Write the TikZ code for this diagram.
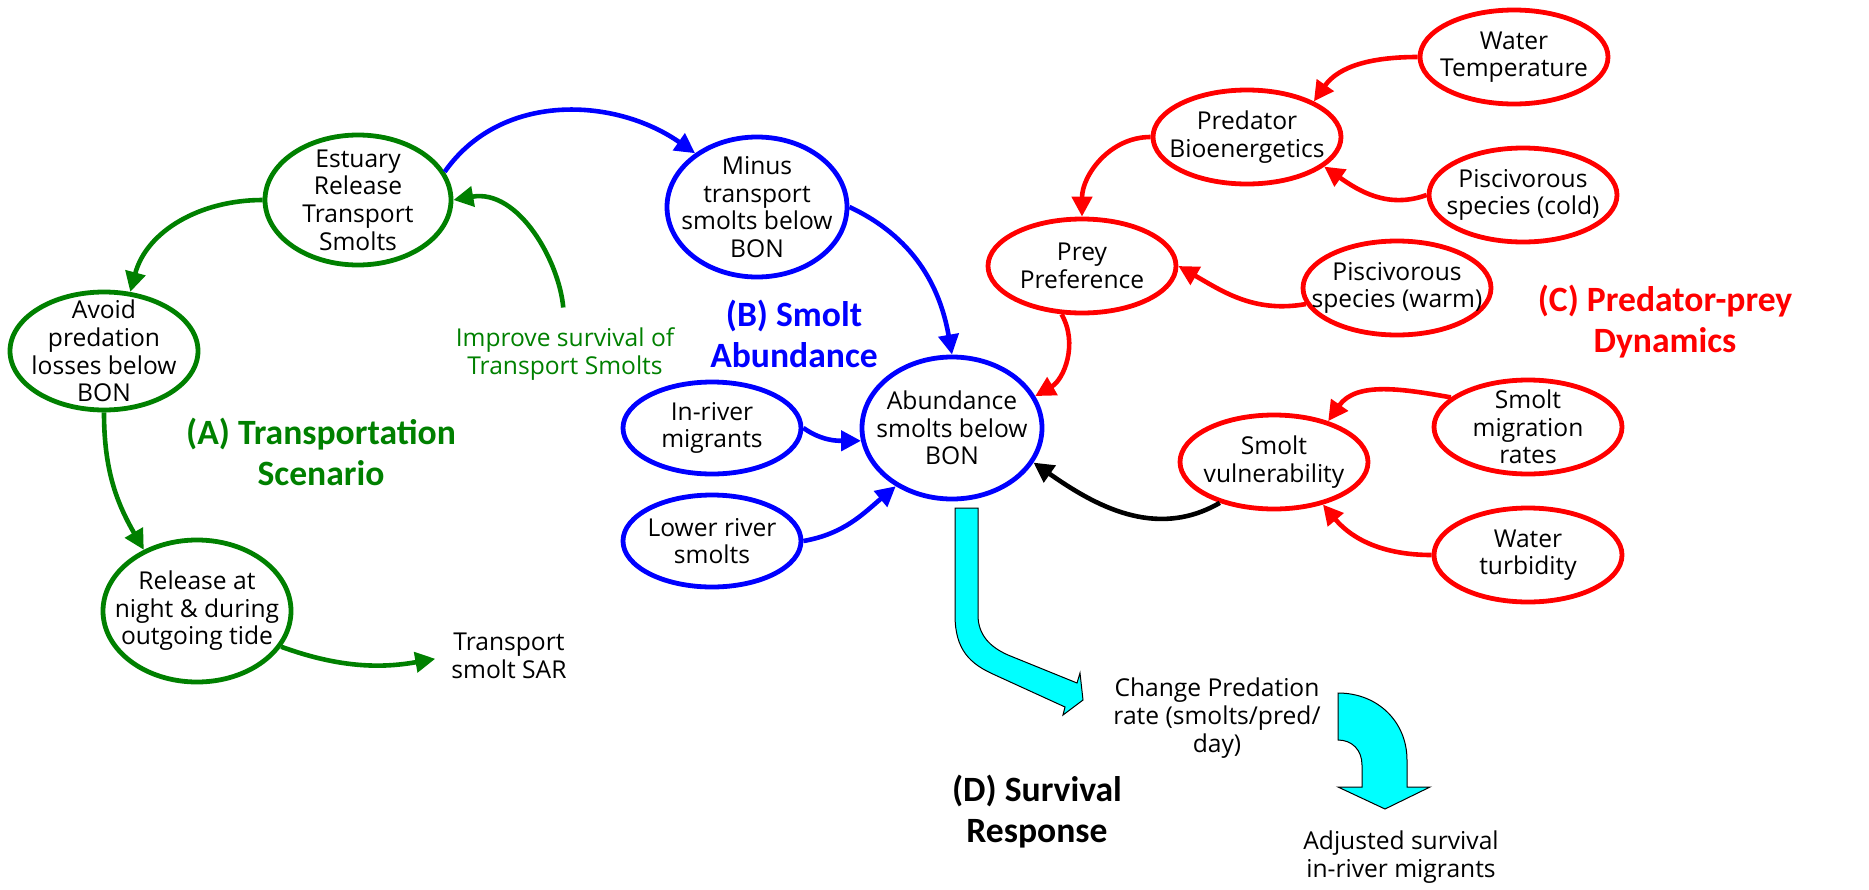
\documentclass[tikz,border=0pt]{standalone}
\usepackage{fontspec}
\setmainfont{Open Sans}
\newfontfamily\headfont{Carlito}
\usepackage{tikz}
\usetikzlibrary{positioning}
\usetikzlibrary{shapes.geometric}
\usetikzlibrary{arrows.meta}
\usepackage{xcolor}
\definecolor{tgreen}{RGB}{0,128,0}
\definecolor{aqua}{RGB}{0,255,255}
\newcommand{\nodefont}{\fontsize{12.3pt}{13.8pt}\selectfont}

\begin{document}
\begin{tikzpicture}[
	x=0.5pt, y=-0.5pt, on grid,
	gn/.style={ellipse, draw=tgreen, line width=2.4pt, inner sep=0pt},
	bn/.style={ellipse, draw=blue, line width=2.4pt, inner sep=0pt},
	rn/.style={ellipse, draw=red, line width=2.4pt, inner sep=0pt, minimum width=94pt, minimum height=47pt},
	tx/.style={align=center, font=\nodefont, inner sep=0pt},
	hd/.style={align=center, font=\headfont\bfseries\fontsize{17.8pt}{20.5pt}\selectfont, inner sep=0pt},
	arr/.style={-{Triangle[length=10pt, width=10pt]}, line width=2.3pt},
	every label/.style={tx},
	]
	\useasboundingbox (0,0) rectangle (1869,889);
	
	%Nodes
	\node[bn, minimum width=90pt, minimum height=71pt, label=center:{Abundance\\smolts below\\BON}] (abund) at (952,428) {};
	\node[bn, minimum width=90pt, minimum height=70pt, label=center:{Minus\\transport\\smolts below\\BON}] (minus) [above left=110.5pt and 97.5pt of abund] {};
	\node[bn, minimum width=89pt, minimum height=46pt, label=center:{In-river\\migrants}] (inriver) [left=120pt of abund] {};
	\node[bn, minimum width=89pt, minimum height=46pt, label=center:{Lower river\\smolts}] (lower) [below=56.5pt of inriver] {};
	\node[hd, text=blue] (labB) [above left=47pt and 79pt of abund] {(B) Smolt\\Abundance};
	
	\node[gn, minimum width=93pt, minimum height=65pt, label=center:{Estuary\\Release\\Transport\\Smolts}] (est) [above left=3.5pt and 199.5pt of minus] {};
	\node[gn, minimum width=94pt, minimum height=59pt, label=center:{Avoid\\predation\\losses below\\BON}] (avoid) [below left=75.5pt and 127pt of est] {};
	\node[gn, minimum width=94pt, minimum height=71pt, label=center:{Release at\\night \& during\\outgoing tide}] (rel) [below right=130pt and 46.5pt of avoid] {};
	\node[tx] (sar) [below right=22.5pt and 156pt of rel] {Transport\\smolt SAR};
	\node[tx, text=tgreen] (improve) [below right=77pt and 103.5pt of est] {Improve survival of\\Transport Smolts};
	\node[hd, text=tgreen] (labA) [below right=50.5pt and 108.5pt of avoid] {(A) Transportation\\Scenario};
	
	\node[rn, label=center:{Prey\\Preference}] (prey) [above right=81pt and 65pt of abund] {};
	\node[rn, label=center:{Predator\\Bioenergetics}] (bio) [above right=64.5pt and 82.5pt of prey] {};
	\node[rn, label=center:{Water\\Temperature}] (temp) [above right=40pt and 133.5pt of bio] {};
	\node[rn, label=center:{Piscivorous\\species (cold)}] (cold) [below right=29pt and 138pt of bio] {};
	\node[rn, label=center:{Piscivorous\\species (warm)}] (warm) [below right=11pt and 157.5pt of prey] {};
	\node[hd, text=red] (labC) [below right=17pt and 134pt of warm] {(C) Predator-prey\\Dynamics};
	\node[rn, label=center:{Smolt\\vulnerability}] (vuln) [below right=17pt and 161pt of abund] {};
	\node[rn, label=center:{Smolt\\migration\\rates}] (mig) [above right=17.5pt and 127pt of vuln] {};
	\node[rn, label=center:{Water\\turbidity}] (turb) [below right=46.5pt and 127pt of vuln] {};
	
	\node[tx] (change) [below right=145pt and 132.5pt of abund] {Change Predation\\rate (smolts/pred/\\day)};
	\node[hd] (labD) [below left=47pt and 90pt of change] {(D) Survival\\Response};
	\node[tx] (adj) [below right=69.5pt and 92pt of change] {Adjusted survival\\in-river migrants};
	
	%Lines
	\draw[arr, tgreen] (est.west) to[out=180, in=75] (avoid.66);
	\draw[arr, tgreen] (avoid.south) to[out=-90, in=120] (rel.131);
	\draw[arr, tgreen, shorten >=8pt] (rel.-23) to[out=-20, in=190] (sar.west);
	\draw[arr, tgreen, shorten <=10pt] (improve.north) to[out=95, in=10] (est.east);
	\draw[arr, blue] (est.18) to[out=55, in=145] (minus.139);
	\draw[arr, blue] (minus.east) to[out=-25, in=100] (abund.north);
	\draw[arr, blue] (inriver.east) to[out=-35, in=180] (abund.188);
	\draw[arr, blue] (lower.east) to[out=10, in=220] (abund.-134);
	\draw[arr, red] (temp.west) to[out=180, in=55] (bio.28);
	\draw[arr, red] (bio.west) to[out=180, in=90] (prey.north);
	\draw[arr, red] (cold.west) to[out=200, in=-35] (bio.-21);
	\draw[arr, red] (warm.190) to[out=190, in=-30] (prey.east);
	\draw[arr, red] (prey.-113) to[out=-60, in=30] (abund.21);
	\draw[arr, red] (mig.159) to[out=170, in=55] (vuln.37);
	\draw[arr, red] (turb.west) to[out=180, in=-50] (vuln.-41);
	\draw[arr, black] (vuln.-143) to[out=-150, in=-35] (abund.-23);
	
	%Block arrows
	\filldraw[fill=aqua, draw=black, line width=0.5pt] (955,508) -- (955,615) .. controls (955,650) and (970,664) .. (995,675) -- (1065,707) -- (1063,715) -- (1083,700) -- (1080,673) -- (1077,683) -- (1008,655) .. controls (990,647) and (978,635) .. (978,615) -- (978,508) -- cycle;
	\filldraw[fill=aqua, draw=black, line width=0.5pt] (1338,693) .. controls (1378,693) and (1407,722) .. (1407,760) -- (1407,787) -- (1430,787) -- (1385,809) -- (1338,787) -- (1362,787) -- (1362,765) .. controls (1362,750) and (1352,740) .. (1338,740) -- cycle;
\end{tikzpicture}
\end{document}
